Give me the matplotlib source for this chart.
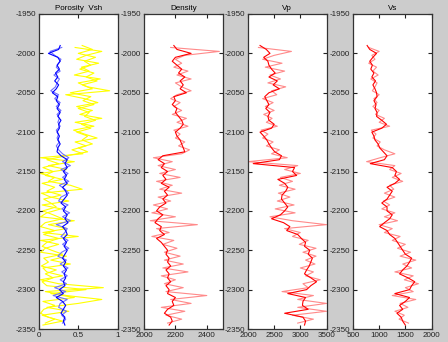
import numpy as np
import matplotlib
matplotlib.use('Agg')
import matplotlib.pyplot as plt

plt.rcParams['font.family'] = ['Liberation Sans', 'DejaVu Sans']

# depth grid (m), main curves sampled every 5 m, light curves in between
depth = np.arange(-1990, -2350, -5)
depth_lt = np.arange(-1992.5, -2345, -5)

poro = [0.27, 0.25, 0.12, 0.24, 0.27, 0.23, 0.26, 0.21, 0.24, 0.20,
        0.25, 0.22, 0.17, 0.24, 0.22, 0.26, 0.23, 0.27, 0.24, 0.28,
        0.25, 0.26, 0.23, 0.26, 0.24, 0.27, 0.24, 0.23, 0.28, 0.36,
        0.33, 0.36, 0.31, 0.35, 0.32, 0.36, 0.30, 0.34, 0.36, 0.32,
        0.28, 0.34, 0.31, 0.36, 0.33, 0.37, 0.30, 0.34, 0.36, 0.31,
        0.35, 0.32, 0.36, 0.33, 0.30, 0.34, 0.31, 0.35, 0.32, 0.34,
        0.31, 0.33, 0.26, 0.31, 0.22, 0.30, 0.34, 0.31, 0.28, 0.33,
        0.31, 0.33]
poro_lt = [0.29, 0.14, 0.20, 0.28, 0.25, 0.22, 0.27, 0.19, 0.26, 0.23,
           0.21, 0.15, 0.25, 0.20, 0.27, 0.22, 0.28, 0.23, 0.26, 0.24,
           0.27, 0.22, 0.25, 0.23, 0.26, 0.22, 0.25, 0.30, 0.38, 0.30,
           0.40, 0.28, 0.37, 0.30, 0.38, 0.26, 0.33, 0.38, 0.28, 0.25,
           0.37, 0.29, 0.39, 0.30, 0.40, 0.22, 0.36, 0.33, 0.28, 0.37,
           0.30, 0.38, 0.29, 0.24, 0.35, 0.27, 0.37, 0.29, 0.36, 0.27,
           0.35, 0.20, 0.34, 0.18, 0.36, 0.27, 0.25, 0.35, 0.29, 0.34,
           0.30]

vsh = [0.55, 0.68, 0.50, 0.72, 0.58, 0.66, 0.52, 0.70, 0.60, 0.74,
       0.55, 0.68, 0.40, 0.66, 0.56, 0.70, 0.50, 0.64, 0.58, 0.72,
       0.54, 0.66, 0.48, 0.62, 0.55, 0.68, 0.50, 0.62, 0.35, 0.10,
       0.25, 0.05, 0.18, 0.08, 0.30, 0.04, 0.20, 0.10, 0.28, 0.06,
       0.15, 0.22, 0.05, 0.18, 0.30, 0.08, 0.02, 0.20, 0.06, 0.25,
       0.10, 0.04, 0.16, 0.30, 0.06, 0.12, 0.03, 0.22, 0.08, 0.18,
       0.04, 0.10, 0.60, 0.15, 0.45, 0.05, 0.20, 0.06, 0.02, 0.12,
       0.30, 0.05]
vsh_lt = [0.46, 0.80, 0.60, 0.48, 0.76, 0.54, 0.64, 0.45, 0.78, 0.50,
          0.62, 0.90, 0.34, 0.58, 0.75, 0.48, 0.68, 0.52, 0.80, 0.46,
          0.70, 0.44, 0.58, 0.74, 0.46, 0.60, 0.42, 0.56, 0.02, 0.45,
          0.12, 0.35, 0.02, 0.20, 0.12, 0.40, 0.55, 0.03, 0.15, 0.38,
          0.04, 0.28, 0.10, 0.02, 0.45, 0.12, 0.35, 0.05, 0.50, 0.02,
          0.25, 0.08, 0.02, 0.35, 0.15, 0.40, 0.05, 0.10, 0.30, 0.02,
          0.25, 0.82, 0.08, 0.35, 0.80, 0.50, 0.10, 0.38, 0.04, 0.20,
          0.08]

dens = [2190, 2210, 2300, 2200, 2180, 2210, 2240, 2220, 2260, 2230,
        2250, 2230, 2270, 2190, 2200, 2180, 2210, 2200, 2220, 2240,
        2250, 2230, 2200, 2210, 2230, 2240, 2250, 2260, 2120, 2090,
        2130, 2110, 2150, 2120, 2140, 2110, 2160, 2130, 2150, 2120,
        2140, 2100, 2080, 2120, 2090, 2070, 2110, 2100, 2130, 2080,
        2110, 2130, 2150, 2140, 2160, 2150, 2170, 2140, 2160, 2150,
        2170, 2140, 2160, 2150, 2200, 2180, 2190, 2150, 2130, 2170,
        2180, 2160]
dens_lt = [2170, 2480, 2260, 2200, 2240, 2190, 2280, 2210, 2300, 2200,
           2240, 2300, 2210, 2170, 2230, 2190, 2240, 2180, 2270, 2210,
           2280, 2190, 2230, 2200, 2260, 2220, 2290, 2240, 2060, 2180,
           2090, 2200, 2100, 2230, 2080, 2180, 2100, 2240, 2090, 2170,
           2060, 2150, 2050, 2200, 2040, 2340, 2080, 2160, 2050, 2190,
           2120, 2210, 2130, 2230, 2130, 2250, 2120, 2280, 2110, 2200,
           2130, 2250, 2140, 2400, 2170, 2300, 2110, 2260, 2140, 2240,
           2150]

vp = [2230, 2350, 2420, 2300, 2380, 2400, 2450, 2520, 2400, 2560,
      2480, 2600, 2400, 2320, 2360, 2400, 2340, 2420, 2380, 2400,
      2500, 2450, 2230, 2300, 2360, 2400, 2450, 2510, 2640, 2600,
      2100, 2890, 2850, 2930, 2570, 2700, 2760, 2720, 2650, 2640,
      2700, 2760, 2700, 2620, 2450, 2680, 2800, 2740, 2950, 3020,
      3100, 3080, 3180, 3150, 3230, 3200, 3170, 3120, 3080, 3200,
      3310, 3200, 3120, 2760, 3100, 3050, 3040, 3150, 2700, 3050,
      3100, 3080]
vp_lt = [2200, 2830, 2500, 2280, 2650, 2330, 2700, 2420, 2620, 2380,
         2720, 2450, 2550, 2280, 2480, 2330, 2500, 2300, 2460, 2350,
         2560, 2250, 2380, 2280, 2480, 2350, 2600, 2450, 2750, 2000,
         2950, 2700, 3000, 2620, 2850, 2600, 2900, 2580, 2800, 2560,
         2880, 2520, 2900, 2420, 2850, 3500, 2700, 3000, 2850, 3150,
         2980, 3300, 3050, 3300, 3100, 3280, 3000, 3250, 3100, 3380,
         3050, 3150, 2650, 3250, 2950, 3500, 2950, 3500, 2850, 3250,
         2950]

vs = [770, 820, 950, 880, 820, 870, 840, 900, 860, 930,
      880, 920, 950, 960, 900, 940, 920, 960, 950, 1050,
      1140, 1050, 860, 900, 920, 980, 1010, 1080, 1150, 1100,
      830, 1250, 1330, 1300, 1390, 1300, 1150, 1250, 1200, 1150,
      1050, 1150, 1150, 1250, 1200, 1100, 1010, 1150, 1200, 1300,
      1350, 1400, 1450, 1500, 1620, 1580, 1530, 1450, 1390, 1550,
      1680, 1620, 1580, 1300, 1580, 1500, 1390, 1450, 1340, 1420,
      1450, 1500]
vs_lt = [800, 1000, 860, 920, 800, 950, 880, 980, 840, 960,
         920, 870, 1000, 900, 960, 880, 1000, 930, 1100, 1000,
         1200, 850, 940, 880, 1020, 960, 1100, 1300, 1020, 760,
         1300, 1200, 1420, 1250, 1450, 1200, 1280, 1100, 1300, 1080,
         1200, 1050, 1300, 1100, 1350, 1000, 1250, 1100, 1400, 1250,
         1500, 1350, 1600, 1400, 1700, 1450, 1620, 1300, 1650, 1480,
         1750, 1500, 1650, 1250, 1700, 1400, 1550, 1300, 1480, 1380,
         1560]

titles = ['Porosity  Vsh', 'Density', 'Vp', 'Vs']
xlims = [(0, 1), (2000, 2500), (2000, 3500), (500, 2000)]
xticks = [[0, 0.5, 1], [2000, 2200, 2400], [2000, 2500, 3000, 3500],
          [500, 1000, 1500, 2000]]
xticklabels = [['0', '0.5', '1'], ['2000', '2200', '2400'],
               ['2000', '2500', '3000', '3500'], ['500', '1000', '1500', '2000']]
yticks = np.arange(-1950, -2351, -50)

W, H = 448, 342
fig = plt.figure(figsize=(W/100, H/100), dpi=100, facecolor='#cccccc')
lefts = [39, 144, 248, 353]
axes = []
for i, lx in enumerate(lefts):
    ax = fig.add_axes([lx/W, 13/H, 78.5/W, 315/H])
    ax.set_facecolor('white')
    ax.set_xlim(*xlims[i])
    ax.set_ylim(-2350, -1950)
    ax.set_xticks(xticks[i])
    ax.set_xticklabels(xticklabels[i])
    ax.set_yticks(yticks)
    ax.set_yticklabels([str(v) for v in yticks])
    ax.tick_params(direction='in', length=3, width=0.8, labelsize=5.8, pad=2,
                   top=True, right=True, colors='#222222')
    for s in ax.spines.values():
        s.set_linewidth(0.9)
        s.set_color('#333333')
    ax.set_title(titles[i], fontsize=5.8, pad=3)
    axes.append(ax)

lw = 0.8
axes[0].plot(vsh_lt, depth_lt, color='yellow', lw=lw)
axes[0].plot(vsh, depth, color='yellow', lw=lw)
axes[0].plot(poro_lt, depth_lt, color='#7070ff', lw=lw)
axes[0].plot(poro, depth, color='blue', lw=lw)

for ax, lt, main in zip(axes[1:], [dens_lt, vp_lt, vs_lt], [dens, vp, vs]):
    ax.plot(lt, depth_lt, color='#ff8a8a', lw=lw)
    ax.plot(main, depth, color='red', lw=lw)

fig.savefig('out.png', dpi=100, facecolor=fig.get_facecolor())
